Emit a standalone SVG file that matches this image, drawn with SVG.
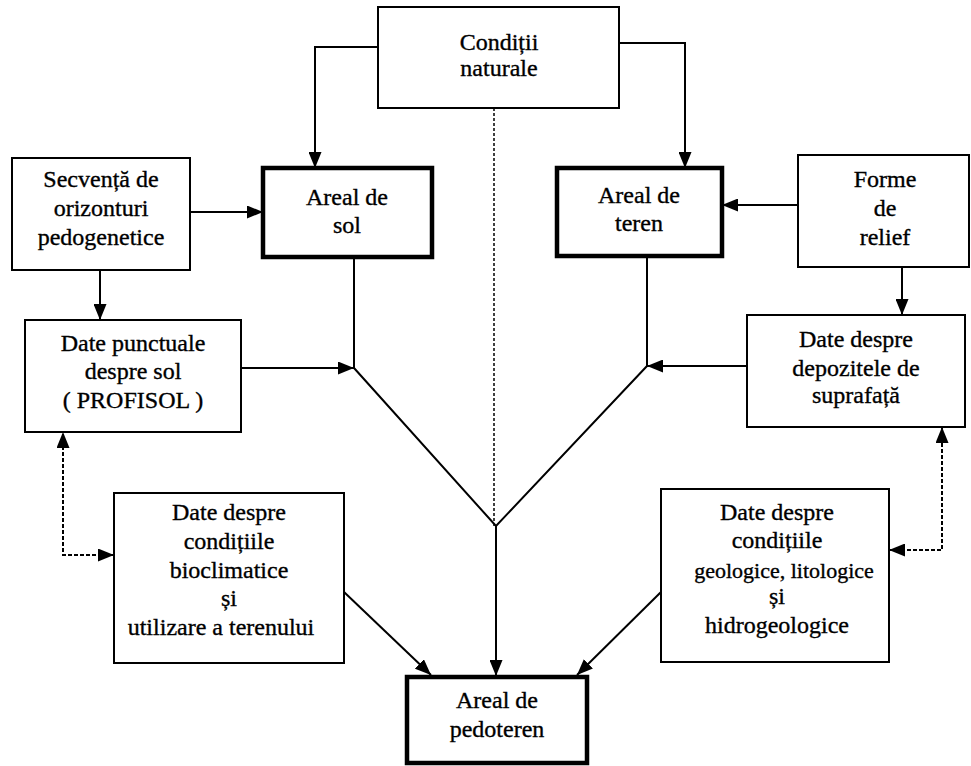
<svg xmlns="http://www.w3.org/2000/svg" width="971" height="766" viewBox="0 0 971 766">
<defs>
<marker id="ah" viewBox="0 0 16 13" refX="16" refY="6.5" markerWidth="16" markerHeight="13" markerUnits="userSpaceOnUse" orient="auto-start-reverse">
<path d="M0,0 L16,6.5 L0,13 Z" fill="#000"/>
</marker>
<style>
.box{fill:#fff;stroke:#000;stroke-width:2}
.thick{fill:#fff;stroke:#000;stroke-width:4.5}
.t{font-family:"Liberation Serif","Times New Roman",serif;font-size:24px;fill:#000;stroke:#000;stroke-width:0.35;text-anchor:middle}
.c{fill:none;stroke:#000;stroke-width:2}
.d{fill:none;stroke:#000;stroke-width:2;stroke-dasharray:4 2}
.dc{fill:none;stroke:#000;stroke-width:1.5;stroke-dasharray:3 2}
</style>
</defs>
<rect width="971" height="766" fill="#fff"/>
<g id="connectors">
<path class="c" d="M378,47 H315 V168" marker-end="url(#ah)"/>
<path class="c" d="M619,43 H685 V168" marker-end="url(#ah)"/>
<path class="c" d="M190,212 H263" marker-end="url(#ah)"/>
<path class="c" d="M798,205 H722" marker-end="url(#ah)"/>
<path class="c" d="M100,270 V320" marker-end="url(#ah)"/>
<path class="c" d="M902,267 V315" marker-end="url(#ah)"/>
<path class="c" d="M241,368 H354" marker-end="url(#ah)"/>
<path class="c" d="M354,257 V368"/>
<path class="c" d="M747,366 H647" marker-end="url(#ah)"/>
<path class="c" d="M647,256 V366"/>
<path class="c" d="M354,368 L496,526 L647,366"/>
<path class="dc" d="M494,108 V526"/>
<path class="c" d="M496,526 V676" marker-end="url(#ah)"/>
<path class="c" d="M344,592 L431,675" marker-end="url(#ah)"/>
<path class="c" d="M661,592 L577,675" marker-end="url(#ah)"/>
<path class="d" d="M114,555 H63 V432" marker-start="url(#ah)" marker-end="url(#ah)"/>
<path class="d" d="M889,550 H942 V427" marker-start="url(#ah)" marker-end="url(#ah)"/>
</g>
<g id="conditii">
<rect class="box" x="378" y="7" width="241" height="101"/>
<text class="t" x="499" y="50">Condiții</text>
<text class="t" x="499" y="76">naturale</text>
</g>
<g id="secventa">
<rect class="box" x="12" y="158" width="178" height="112"/>
<text class="t" x="101" y="187">Secvență de</text>
<text class="t" x="101" y="216">orizonturi</text>
<text class="t" x="101" y="245">pedogenetice</text>
</g>
<g id="areal-sol">
<rect class="thick" x="263" y="168" width="169" height="89"/>
<text class="t" x="347" y="205">Areal de</text>
<text class="t" x="347" y="233">sol</text>
</g>
<g id="areal-teren">
<rect class="thick" x="557" y="168" width="165" height="88"/>
<text class="t" x="639" y="203">Areal de</text>
<text class="t" x="639" y="231">teren</text>
</g>
<g id="forme">
<rect class="box" x="798" y="155" width="171" height="112"/>
<text class="t" x="885" y="187">Forme</text>
<text class="t" x="885" y="216">de</text>
<text class="t" x="885" y="245">relief</text>
</g>
<g id="date-punctuale">
<rect class="box" x="25" y="320" width="216" height="112"/>
<text class="t" x="133" y="351">Date punctuale</text>
<text class="t" x="133" y="379">despre sol</text>
<text class="t" x="133" y="408">( PROFISOL )</text>
</g>
<g id="date-depozite">
<rect class="box" x="747" y="315" width="218" height="112"/>
<text class="t" x="856" y="347">Date despre</text>
<text class="t" x="856" y="376">depozitele de</text>
<text class="t" x="856" y="403">suprafață</text>
</g>
<g id="date-bioclimatice">
<rect class="box" x="114" y="493" width="230" height="170"/>
<text class="t" x="229" y="520">Date despre</text>
<text class="t" x="229" y="549">condițiile</text>
<text class="t" x="229" y="578">bioclimatice</text>
<text class="t" x="229" y="606">și</text>
<text class="t" x="221" y="635">utilizare a terenului</text>
</g>
<g id="date-geologice">
<rect class="box" x="661" y="489" width="228" height="173"/>
<text class="t" x="777" y="520">Date despre</text>
<text class="t" x="777" y="548">condițiile</text>
<text class="t" x="784" y="578" style="font-size:22px">geologice, litologice</text>
<text class="t" x="777" y="604">și</text>
<text class="t" x="777" y="633">hidrogeologice</text>
</g>
<g id="areal-pedoteren">
<rect class="thick" x="407" y="677" width="180" height="86"/>
<text class="t" x="497" y="708">Areal de</text>
<text class="t" x="497" y="737">pedoteren</text>
</g>
</svg>
